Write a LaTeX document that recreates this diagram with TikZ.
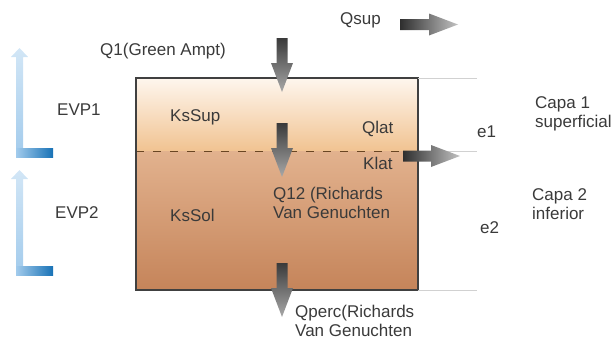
\documentclass[tikz,border=0pt]{standalone}
\usepackage{fontspec}
\setmainfont{Liberation Sans}
\usetikzlibrary{arrows.meta}
\definecolor{suptop}{HTML}{FEF6EE}
\definecolor{supbot}{HTML}{F1C391}
\definecolor{soltop}{HTML}{E2B28E}
\definecolor{solbot}{HTML}{C5845A}
\definecolor{txtgray}{HTML}{3A3A3A}
\definecolor{evptop}{HTML}{D2E6F6}
\definecolor{evpbot}{HTML}{A2CBEC}
\definecolor{evpdark}{HTML}{1872B6}
\definecolor{arrdark}{HTML}{3A3A3A}
\definecolor{arrlight}{HTML}{A8A8A8}
\tikzset{
  lbl/.style={anchor=west, text=txtgray, inner sep=0pt, align=left,
    font=\fontsize{17}{19.5}\selectfont},
  boxline/.style={draw=black!75, line width=1.4pt},
  layerline/.style={draw=black!45!brown, line width=1pt, dash pattern=on 8pt off 9pt},
  guide/.style={draw=black!18, line width=0.8pt}
}
% block arrow: tail, angle, length, shading
\newcommand{\grayarrow}[4]{%
  \shade[#4, shift={#1}, rotate=#2] (0,-5.5) -- ({#3-29},-5.5) -- ({#3-29},-11)
    -- (#3,0) -- ({#3-29},11) -- ({#3-29},5.5) -- (0,5.5) -- cycle;}
% evaporation arrow: top y, bottom y
\newcommand{\evparrow}[2]{%
  \shade[top color=evptop, bottom color=evpbot] (16,#2) -- (16,{#1+9}) -- (11,{#1+9})
    -- (19.5,#1) -- (28,{#1+9}) -- (23,{#1+9}) -- (23,#2) -- cycle;
  \shade[left color=evpbot, right color=evpdark] (16,{#2-9}) rectangle (53,#2);}

\begin{document}
\begin{tikzpicture}[x=1pt,y=-1pt]
\useasboundingbox (0,0) rectangle (613,340);
% soil column
\coordinate (boxnw) at (136,78);
\coordinate (boxse) at (418,290);
\shade[top color=suptop, bottom color=supbot] (136,78) rectangle (418,151);
\shade[top color=soltop, bottom color=solbot] (136,151) rectangle (418,290);
\draw[layerline] (136,151) -- (418,151);
\draw[boxline] (boxnw) rectangle (boxse);
\draw[guide] (418,78) -- (477,78);
\draw[guide] (418,151) -- (477,151);
\draw[guide] (418,290) -- (477,290);
% fluxes
\coordinate (q1tail) at (282,38);
\coordinate (q12tail) at (282,123);
\coordinate (qperctail) at (282,263);
\coordinate (qsuptail) at (400,24.5);
\coordinate (klattail) at (403,156);
\grayarrow{(q1tail)}{-90}{54}{top color=arrdark, bottom color=arrlight}
\grayarrow{(q12tail)}{-90}{54}{top color=arrdark, bottom color=arrlight}
\grayarrow{(qperctail)}{-90}{54}{top color=arrdark, bottom color=arrlight}
\grayarrow{(qsuptail)}{0}{58}{left color=arrdark!80!black, right color=arrlight!70}
\grayarrow{(klattail)}{0}{57}{left color=arrdark!80!black, right color=arrlight!70}
\evparrow{48}{157}
\evparrow{170}{275}
% labels
\node[lbl] (q1) at (100,51) {Q1(Green Ampt)};
\node[lbl] (qsup) at (340,20) {Qsup};
\node[lbl] (evp1) at (57,110) {EVP1};
\node[lbl] (kssup) at (170,117) {KsSup};
\node[lbl] (qlat) at (362,129) {Qlat};
\node[lbl] (klat) at (363,163) {Klat};
\node[lbl] (e1) at (477,132) {e1};
\node[lbl] (capa1) at (535,114) {Capa 1\\superficial};
\node[lbl] (evp2) at (55,213) {EVP2};
\node[lbl] (kssol) at (170,215) {KsSol};
\node[lbl] (q12) at (273,203) {Q12 (Richards\\Van Genuchten};
\node[lbl] (e2) at (480,228) {e2};
\node[lbl] (capa2) at (532,204) {Capa 2\\inferior};
\node[lbl] (qperc) at (295,321) {Qperc(Richards\\Van Genuchten};
\end{tikzpicture}
\end{document}
